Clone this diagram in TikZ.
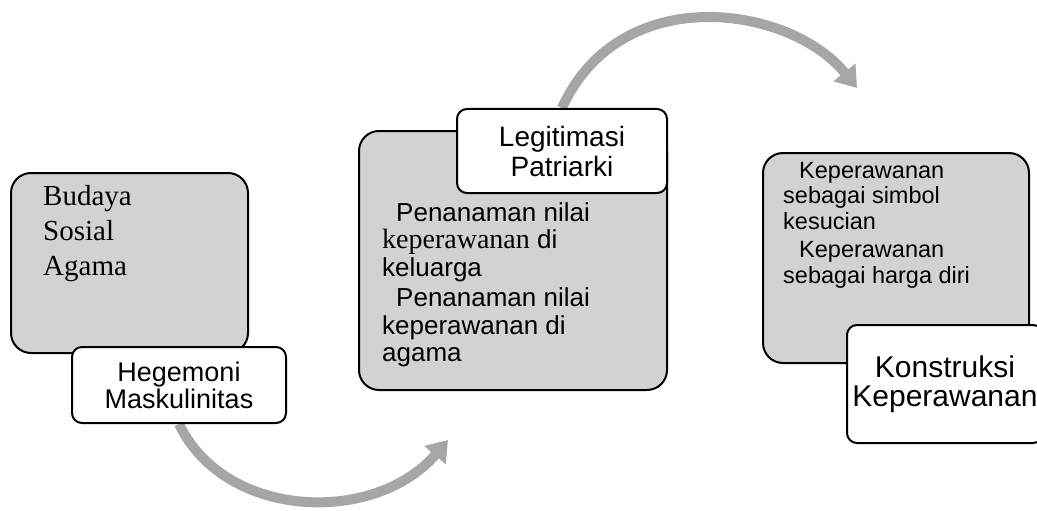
\documentclass[tikz,border=0pt]{standalone}
\usepackage{fontspec}
\setmainfont{Liberation Sans}
\newfontfamily\tnr{Liberation Serif}
\usetikzlibrary{arrows.meta,backgrounds}
\definecolor{boxgray}{HTML}{D2D2D2}
\definecolor{arrowgray}{HTML}{A6A6A6}
\tikzset{
  graybox/.style={draw=black, line width=2pt, fill=boxgray, rounded corners=20pt, inner sep=0pt},
  labelbox/.style={draw=black, line width=2pt, fill=white, rounded corners=10pt, inner sep=0pt, align=center},
  boxtext/.style={inner sep=0pt, anchor=north west, align=left},
  bigarrow/.style={draw=arrowgray, line width=10pt, -{Triangle[width=27pt,length=20pt]}},
}
\begin{document}
\begin{tikzpicture}[x=1pt,y=-1pt]
\useasboundingbox (0,0) rectangle (1037,511);
% box 1
\node[graybox, minimum width=237pt, minimum height=180pt] (b1) at (129.5,263) {};
\node[boxtext, font=\tnr\fontsize{29}{35}\selectfont] (t1) at (43,185) {Budaya\\Sosial\\Agama};
\node[labelbox, minimum width=214pt, minimum height=76pt, font=\fontsize{27}{27}\selectfont] (l1) at (179,385) {Hegemoni\\Maskulinitas};
% box 2
\node[graybox, minimum width=308pt, minimum height=259pt] (b2) at (513,260.5) {};
\node[labelbox, minimum width=210pt, minimum height=84pt, font=\fontsize{28}{30}\selectfont] (l2) at (562,151) {Legitimasi\\Patriarki};
\node[boxtext, font=\fontsize{26}{27.5}\selectfont] (t2) at (382,202) {\hspace*{14pt}Penanaman nilai\\{\tnr\fontsize{28}{27.5}\selectfont keperawanan} di\\keluarga\\[3pt]\hspace*{14pt}Penanaman nilai\\keperawanan di\\agama};
% box 3
\node[graybox, minimum width=266pt, minimum height=210pt] (b3) at (896,258) {};
\node[boxtext, font=\fontsize{23.5}{25.5}\selectfont] (t3) at (783,162) {\hspace*{16pt}Keperawanan\\sebagai simbol\\kesucian\\[3pt]\hspace*{16pt}Keperawanan\\sebagai harga diri};
\node[labelbox, minimum width=196pt, minimum height=118pt, font=\fontsize{30}{28.5}\selectfont] (l3) at (945,384) {Konstruksi\\Keperawanan};
% arrow ends
\coordinate (e1) at (448,440);
\coordinate (e2) at (857,88);
\begin{scope}[on background layer]
\draw[bigarrow] (l1.south) .. controls (225,520) and (375,525) .. (e1);
\draw[bigarrow] (l2.north) .. controls (620,-20) and (790,5) .. (e2);
\end{scope}
\end{tikzpicture}
\end{document}
